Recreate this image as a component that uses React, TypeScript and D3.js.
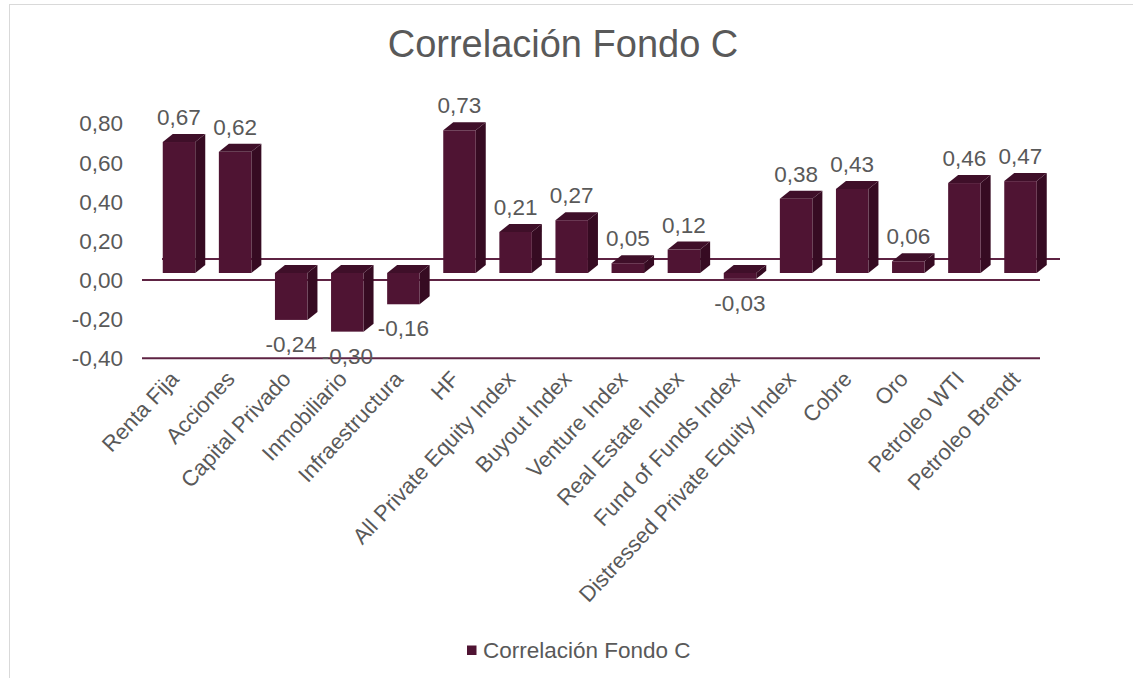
import React from "react";
import * as d3 from "d3";

const categories = [
  "Renta Fija",
  "Acciones",
  "Capital Privado",
  "Inmobiliario",
  "Infraestructura",
  "HF",
  "All Private Equity Index",
  "Buyout Index",
  "Venture Index",
  "Real Estate Index",
  "Fund of Funds Index",
  "Distressed Private Equity Index",
  "Cobre",
  "Oro",
  "Petroleo WTI",
  "Petroleo Brendt",
];

const values = [0.67, 0.62, -0.24, -0.3, -0.16, 0.73, 0.21, 0.27, 0.05, 0.12, -0.03, 0.38, 0.43, 0.06, 0.46, 0.47];

const yTicks = [-0.4, -0.2, 0, 0.2, 0.4, 0.6, 0.8];

const seriesName = "Correlación Fondo C";
const title = "Correlación Fondo C";

const W = 1133;
const H = 678;
const FONT = "'Liberation Sans', Arial, sans-serif";
const TEXT = "#595959";
const FRONT = "#4f1433";
const SIDE = "#360b22";
const TOP = "#3f0f29";
const LINE = "#5e2343";
const LABEL_SIZE = 22.5;
const CAT_SIZE = 22;

// 3D depth offset of the columns
const DX = 10;
const DY = -8;
const BAR_W = 32.5;
// columns sit a little behind the front plane of the axis
const BAR_SHIFT = -7;

const fmt = (v: number) => v.toFixed(2).replace(".", ",");

export default function App() {
  const y = d3.scaleLinear().domain([-0.4, 0.8]).range([358.2, 123.6]);
  const x = d3.scalePoint<string>().domain(categories).range([179, 1020.5]);

  const yb = (v: number) => y(v) + BAR_SHIFT;

  const left = 142;
  const right = 1040;
  const depth = 20;

  return (
    <svg width={W} height={H} style={{ display: "block", position: "absolute", left: 0, top: 0 }} fontFamily={FONT}>
      <rect x={0} y={0} width={W} height={H} fill="#ffffff" />
      <rect x={9.5} y={4.5} width={W + 20} height={H + 20} fill="none" stroke="#d9d9d9" strokeWidth={1} />

      <text x={563} y={57} textAnchor="middle" fontSize={38} fill={TEXT}>
        {title}
      </text>

      {/* floor back edge at zero */}
      <line x1={left + depth} x2={right + depth} y1={y(0) - 21} y2={y(0) - 21} stroke={LINE} strokeWidth={2} />
      {/* front edges */}
      <line x1={left} x2={right} y1={y(0)} y2={y(0)} stroke={LINE} strokeWidth={2} />
      <line x1={left} x2={right} y1={y(-0.4)} y2={y(-0.4)} stroke={LINE} strokeWidth={2} />

      {yTicks.map((t) => (
        <text key={t} x={123} y={y(t)} dy="0.35em" textAnchor="end" fontSize={LABEL_SIZE} fill={TEXT}>
          {fmt(t)}
        </text>
      ))}

      {values.map((v, i) => {
        const cx = x(categories[i]) as number;
        const x0 = cx - BAR_W / 2;
        const x1 = cx + BAR_W / 2;
        const top = yb(Math.max(v, 0));
        const bot = yb(Math.min(v, 0));
        const side = `M${x1},${top}L${x1 + DX},${top + DY}L${x1 + DX},${bot + DY}L${x1},${bot}Z`;
        const cap = `M${x0},${top}L${x0 + DX},${top + DY}L${x1 + DX},${top + DY}L${x1},${top}Z`;
        return (
          <g key={categories[i]}>
            <path d={side} fill={SIDE} />
            <path d={cap} fill={TOP} />
            <rect x={x0} y={top} width={BAR_W} height={Math.max(bot - top, 0.5)} fill={FRONT} />
          </g>
        );
      })}

      {values.map((v, i) => {
        const cx = x(categories[i]) as number;
        const ly = v >= 0 ? yb(v) + DY - 9 : yb(v) + 32;
        return (
          <text key={"l" + i} x={cx} y={ly} textAnchor="middle" fontSize={LABEL_SIZE} fill={TEXT}>
            {fmt(v)}
          </text>
        );
      })}

      {categories.map((c) => {
        const cx = x(c) as number;
        return (
          <text
            key={"c" + c}
            transform={`translate(${cx + 1},${380}) rotate(-47)`}
            textAnchor="end"
            fontSize={CAT_SIZE}
            fill={TEXT}
          >
            {c}
          </text>
        );
      })}

      <rect x={467} y={645.5} width={9.5} height={9.5} fill={FRONT} />
      <text x={483} y={658} fontSize={LABEL_SIZE} fill={TEXT}>
        {seriesName}
      </text>
    </svg>
  );
}
